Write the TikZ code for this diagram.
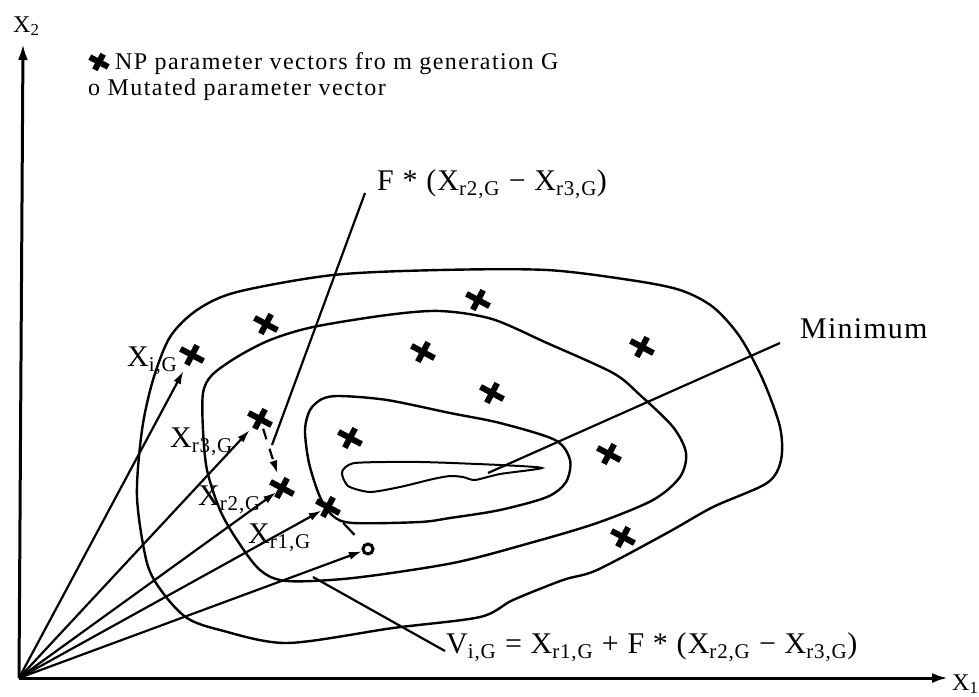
\documentclass[tikz,border=0pt]{standalone}
\usepackage{fontspec}
\setmainfont{Liberation Serif}
\newfontfamily\labfont{Liberation Serif}[LetterSpace=4]
\newfontfamily\legfont{Liberation Serif}[LetterSpace=6]
\usetikzlibrary{arrows.meta}
\tikzset{
    contour/.style = {draw, line width=2.4pt},
    vec/.style = {draw, line width=2.2pt, -{Latex[length=13pt, width=8pt]}},
    axis/.style = {draw, line width=3pt, -{Latex[length=16pt, width=10pt]}},
    pointer/.style = {draw, line width=2.2pt},
    pt/.style = {circle, inner sep=0pt, minimum size=14pt},
    lab/.style = {inner sep=0pt, anchor=base west, font=\labfont\fontsize{30}{36}\selectfont},
    leg/.style = {inner sep=0pt, anchor=base west, font=\legfont\fontsize{24}{28}\selectfont},
    axlab/.style = {inner sep=0pt, anchor=base west, font=\fontsize{24}{28}\selectfont},
}
\tikzset{
    pmark/.pic = {\draw[line width=6pt] (-13,0) -- (13,0) (0,-11) -- (0,11);},
}

\begin{document}
\begin{tikzpicture}[x=1pt, y=-1pt]
    \useasboundingbox (0,0) rectangle (979,696);

    \draw[contour] plot[smooth cycle, tension=0.5] coordinates {(142,430) (153,380) (170,337) (197,310) (237,292) (333,275) (440,270) (547,270) (630,280) (680,290) (713,307) (740,337) (763,380) (780,427) (781,460) (767,483) (713,507) (667,533) (597,570) (563,580) (513,600) (480,617) (393,628) (287,643) (220,630) (187,618) (163,593) (147,563) (137,497)};
    \draw[contour] plot[smooth cycle, tension=0.5] coordinates {(203,430) (203,393) (212,375) (237,357) (270,340) (313,327) (387,315) (440,311) (492,319) (547,343) (613,373) (640,395) (673,427) (686,453) (680,477) (653,500) (597,523) (530,543) (453,563) (353,578) (287,581) (260,570) (237,540) (220,510) (207,470)};
    \draw[contour] plot[smooth cycle, tension=0.5] coordinates {(305,430) (310,410) (322,399) (340,396) (387,400) (450,413) (500,423) (555,440) (570,460) (566,482) (547,497) (500,510) (450,518) (420,522) (353,523) (333,516) (320,497) (309,463)};
    \draw[contour, line width=2pt] plot[smooth cycle, tension=0.4] coordinates {(342,472) (355,463) (420,462) (500,465) (542,468) (500,474) (475,480) (463,477) (450,476) (433,479) (400,487) (370,492) (348,486)};

    \coordinate (o) at (19,678);
    \coordinate (x1) at (948,678);
    \coordinate (x2) at (23,44);
    \coordinate (f0) at (365,193);
    \coordinate (f1) at (272,445);
    \coordinate (m0) at (780,343);
    \coordinate (m1) at (488,473);
    \coordinate (v0) at (313,577);
    \coordinate (v1) at (445,651);

    \node[pt] (xi) at (192,355) {};
    \node[pt] (xr3) at (260,419) {};
    \node[pt] (xr2) at (282,488) {};
    \node[pt] (xr1) at (328,507) {};
    \node[pt, draw, line width=3pt, minimum size=10pt] (vi) at (368,549) {};
    \node[pt] (p1) at (266,324) {};
    \node[pt] (p2) at (478,300) {};
    \node[pt] (p3) at (423,352) {};
    \node[pt] (p4) at (642,347) {};
    \node[pt] (p5) at (492,393) {};
    \node[pt] (p6) at (350,438) {};
    \node[pt] (p7) at (609,454) {};
    \node[pt] (p8) at (623,537) {};

    \draw[axis] (o) -- (x1);
    \draw[axis] (o) -- (x2);
    \draw[pointer] (f0) -- (f1);
    \draw[pointer] (m0) -- (m1);
    \draw[pointer] (v0) -- (v1);

    \draw[vec, shorten >=11pt] (o) -- (xi);
    \draw[vec, shorten >=8pt] (o) -- (xr3);
    \draw[vec] (o) -- (xr2);
    \draw[vec] (o) -- (xr1);
    \draw[vec] (o) -- (vi);
    \draw[vec, dash pattern=on 11pt off 10pt, shorten <=3pt, shorten >=8pt] (xr3) -- (xr2);
    \draw[pointer, dash pattern=on 22pt off 10pt, shorten <=15pt, shorten >=13pt] (xr1) -- (vi);

    \foreach \p in {xi, xr3, xr2, xr1, p1, p2, p3, p4, p5, p6, p7, p8}
        \pic[rotate=-28] at (\p) {pmark};
    \pic[rotate=-28, scale=0.8] at (99,62) {pmark};

    \node[axlab] (x1 lab) at (952,690) {X\textsubscript{1}};
    \node[axlab] (x2 lab) at (13,32) {X\textsubscript{2}};
    \node[leg] (leg1) at (115,69) {NP parameter vectors fro m generation G};
    \node[leg] (leg2) at (88,95) {o Mutated parameter vector};

    \node[lab] (xi lab) at (127,366) {X\textsubscript{i,G}};
    \node[lab] (xr3 lab) at (170,447) {X\textsubscript{r3,G}};
    \node[lab] (xr2 lab) at (198,505) {X\textsubscript{r2,G}};
    \node[lab] (xr1 lab) at (248,543) {X\textsubscript{r1,G}};
    \node[lab] (f lab) at (377,190) {F * (X\textsubscript{r2,G} − X\textsubscript{r3,G})};
    \node[lab] (min lab) at (800,338) {Minimum};
    \node[lab] (v lab) at (446,653) {V\textsubscript{i,G} = X\textsubscript{r1,G} + F * (X\textsubscript{r2,G} − X\textsubscript{r3,G})};
\end{tikzpicture}
\end{document}
